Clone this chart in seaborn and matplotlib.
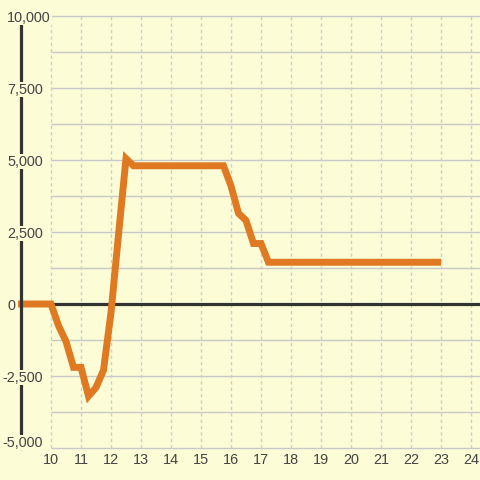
import numpy as np
import seaborn as sns
import matplotlib.pyplot as plt
import matplotlib.transforms as mtransforms

# line vertices
x_vals = [8.9, 10, 10.25, 10.5, 10.75, 11, 11.25, 11.5, 11.75, 12, 12.25, 12.5, 12.75,
          15.75, 16, 16.25, 16.5, 16.75, 17, 17.25, 23]
y_vals = [0, 0, -750, -1300, -2200, -2200, -3200, -2900, -2300, -300, 2400, 5050, 4800,
          4800, 4100, 3150, 2900, 2100, 2100, 1450, 1450]

x_ticks = list(range(10, 25))
y_ticks = [-5000, -2500, 0, 2500, 5000, 7500, 10000]
y_labels = ['-5,000', '-2,500', '0', '2,500', '5,000', '7,500', '10,000']
y_grid = [-5000, -3750, -2500, -1250, 1250, 2500, 3750, 5000, 6250, 7500, 8750, 10000]

bg = '#FCFCD6'
dark = '#333333'
txt = '#444444'

sns.set_style('white')
plt.rcParams['font.family'] = ['Liberation Sans', 'DejaVu Sans']

fig = plt.figure(figsize=(4.8, 4.8), dpi=100, facecolor=bg)
ax = fig.add_axes([0, 0, 1, 1])
ax.set_facecolor(bg)
ax.set_xlim(8.3, 24.3)
ax.set_ylim(-6111, 10556)

# grid
ax.hlines(y_grid, 10, 24.3, colors='#C8C8C8', linewidth=1, zorder=1)
ax.vlines(x_ticks, -5000, 10000, colors='#CDCDD2', linewidth=1,
          linestyles=(0, (2.4, 2.2)), zorder=1)
ax.hlines(0, 8.9, 24.3, colors=dark, linewidth=2.3, zorder=1.6)

sns.lineplot(x=x_vals, y=y_vals, ax=ax, color='#DF7A22', linewidth=5,
             estimator=None, zorder=2)
ax.lines[-1].set_solid_joinstyle('miter')
ax.lines[-1].set_solid_capstyle('butt')

for s in ['top', 'right', 'bottom']:
    ax.spines[s].set_visible(False)
ax.spines['left'].set_position(('data', 9))
ax.spines['left'].set_bounds(-5000, 10000)
ax.spines['left'].set_color(dark)
ax.spines['left'].set_linewidth(2.3)
ax.spines['bottom'].set_position(('data', -5000))

ax.set_xticks(x_ticks)
ax.set_yticks([])
ax.tick_params(axis='x', length=0, pad=3.5, labelsize=10.4, labelcolor=txt)

# y labels sit over the axis line, right aligned a little to its right
for v, lab in zip(y_ticks, y_labels):
    dx, dy = 22, 0
    if v == 10000:
        dx = 30
    elif v == 0:
        dx = -6
    elif v == -5000:
        dy = 7
    tr = ax.transData + mtransforms.ScaledTranslation(dx / 100, dy / 100, fig.dpi_scale_trans)
    ax.text(9, v, lab, transform=tr, ha='right', va='center_baseline', fontsize=10.4,
            color=txt, zorder=4,
            bbox=dict(facecolor=bg, edgecolor='none', pad=0.5))

ax.set_xlabel('')
ax.set_ylabel('')
fig.savefig('out.png', dpi=100, facecolor=bg)
